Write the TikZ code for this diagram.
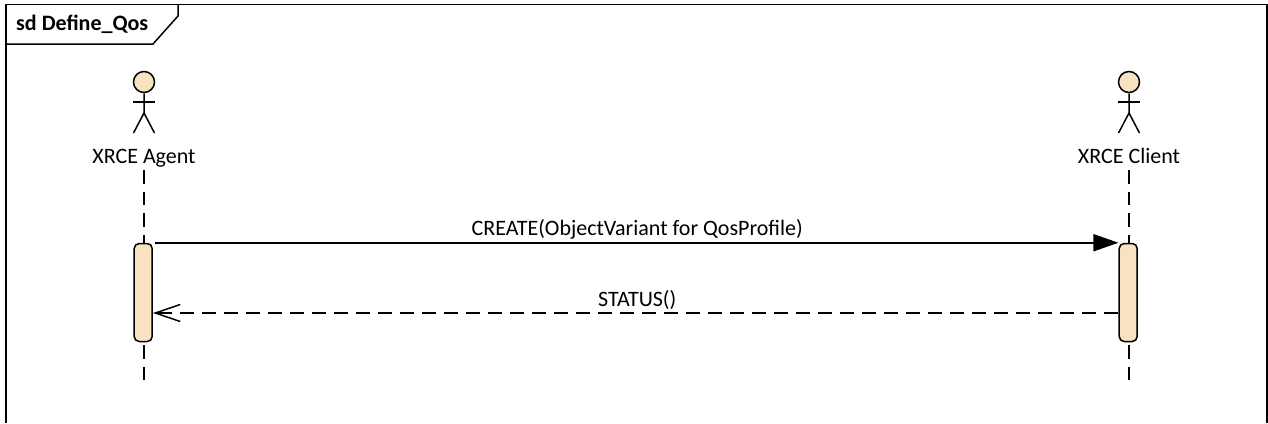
\documentclass[tikz,border=0pt]{standalone}
\usepackage{fontspec}
\setmainfont{Carlito}
\usetikzlibrary{arrows.meta}
\definecolor{actorfill}{RGB}{248,226,194}
\tikzset{
    umlline/.style={line width=1.5pt, black},
    lifeline/.style={umlline, dash pattern=on 13.5pt off 8pt},
    bar/.style={draw, umlline, fill=actorfill, rounded corners=5pt, minimum width=18pt, minimum height=98pt, inner sep=0pt},
    callmsg/.style={umlline, line width=1.7pt, -{Triangle[length=25pt,width=17pt]}},
    replymsg/.style={umlline, dash pattern=on 14pt off 8pt, -{Straight Barb[length=25pt,width=17pt]}},
    msglabel/.style={above, inner sep=0pt, yshift=3pt, xshift=1.5pt}
}
\begin{document}
\begin{tikzpicture}[x=1pt, y=-1pt, font=\fontsize{22pt}{26pt}\selectfont]
\useasboundingbox (0,0) rectangle (1268,423);

% Frame
\draw[umlline] (6,423) -- (6,4.5) -- (1267,4.5) -- (1267,423);
\draw[umlline] (6,44) -- (153,44) -- (178,16) -- (178,4.5);
\node[anchor=west, inner sep=0pt] (title) at (16,24.5) {\textbf{sd Define\_Qos}};

% Actors
\foreach \name/\x/\who in {agent/144/XRCE Agent, client/1129/XRCE Client} {
    \node[circle, draw, umlline, fill=actorfill, minimum size=21pt, inner sep=0pt] (\name head) at (\x,82) {};
    \draw[umlline] (\name head.south) -- (\x,113) -- (\x-10.5,133);
    \draw[umlline] (\x,113) -- (\x+10.5,133);
    \draw[umlline] (\x-11,102) -- (\x+11,102);
    \node[anchor=base, inner sep=0pt] (\name label) at (\x,163) {\who};
    \node[bar] (\name bar) at (\x-0.8,292.5) {};
    \coordinate (\name top) at (\x,170);
    \coordinate (\name barin) at (\x,243);
    \coordinate (\name barout) at (\x,341);
    \coordinate (\name end) at (\x,380);
    \coordinate (\name reply) at (\name bar.east |- 0,313);
    \draw[lifeline] (\name top) -- (\name barin);
    \draw[lifeline] (\name barout) ++(0,4) -- (\name end);
}

% Messages
\draw[callmsg, shorten <=2pt] (agentbar.north east) -- node[msglabel] (create) {CREATE(ObjectVariant for QosProfile)} (clientbar.north west);
\coordinate (clientreply) at (clientbar.west |- 0,313);
\draw[replymsg] (clientreply) -- node[msglabel] (status) {STATUS()} (agentreply);
\end{tikzpicture}
\end{document}
